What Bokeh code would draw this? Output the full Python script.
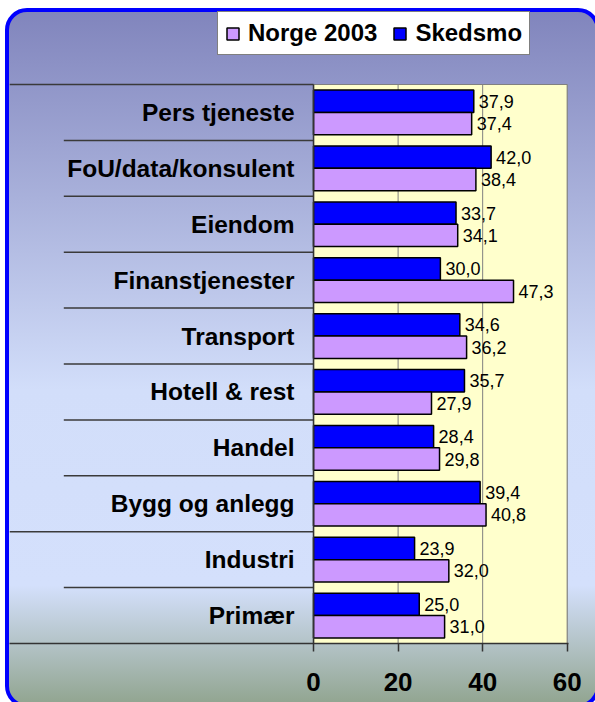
from urllib.parse import quote

from bokeh.plotting import figure
from bokeh.models import (ColumnDataSource, Range1d, FixedTicker,
                          Legend, LegendItem)
from bokeh.core.properties import value
from bokeh.embed import file_html
from bokeh.resources import INLINE

# ---------------- data ----------------
categories = ["Pers tjeneste", "FoU/data/konsulent", "Eiendom", "Finanstjenester",
              "Transport", "Hotell & rest", "Handel", "Bygg og anlegg",
              "Industri", "Primær"]
skedsmo = [37.9, 42.0, 33.7, 30.0, 34.6, 35.7, 28.4, 39.4, 23.9, 25.0]
norge = [37.4, 38.4, 34.1, 47.3, 36.2, 27.9, 29.8, 40.8, 32.0, 31.0]
series_labels = ["Norge 2003", "Skedsmo"]
x_ticks = [0, 20, 40, 60]
long_separator_below = "Bygg og anlegg"

FONT = value("Liberation Sans")


def fmt(v):
    return f"{v:.1f}".replace(".", ",")


n = len(categories)
# category slots: first category at the top, one unit per category
ypos = [n - i - 0.5 for i in range(n)]
BAR_H = 0.4

src = ColumnDataSource(dict(
    cat=categories,
    y=ypos,
    y_sk=[y + BAR_H / 2 for y in ypos],
    y_no=[y - BAR_H / 2 for y in ypos],
    sk=skedsmo,
    no=norge,
    sk_lbl=[fmt(v) for v in skedsmo],
    no_lbl=[fmt(v) for v in norge],
))

W, H = 595, 702
X_LEFT, X_RIGHT = -71.9, 60.3
Y_TOP = 11.503  # room above the categories for the legend
p = figure(width=W, height=H,
           x_range=Range1d(X_LEFT, X_RIGHT),
           y_range=Range1d(0, Y_TOP),
           output_backend="svg", toolbar_location=None,
           y_axis_location=None,
           min_border_left=9, min_border_right=27,
           min_border_top=0, min_border_bottom=59)
p.border_fill_color = None
p.background_fill_color = None
p.outline_line_color = None
p.xgrid.visible = False
p.ygrid.visible = False

# decorative rounded frame with vertical gradient (page background)
frame_svg = (
    "<svg xmlns='http://www.w3.org/2000/svg' width='595' height='702'>"
    "<defs><linearGradient id='g' gradientUnits='userSpaceOnUse' x1='0' y1='8' x2='0' y2='706'>"
    "<stop offset='0' stop-color='#8084bc'/>"
    "<stop offset='0.547' stop-color='#d2defa'/>"
    "<stop offset='0.827' stop-color='#d4e0fc'/>"
    "<stop offset='1' stop-color='#90a48e'/>"
    "</linearGradient></defs>"
    "<rect x='7' y='10' width='591' height='696' rx='20' ry='20' fill='url(#g)' "
    "stroke='#0000ff' stroke-width='4'/></svg>"
)
p.styles = {
    "background-image": f'url("data:image/svg+xml,{quote(frame_svg)}")',
    "background-repeat": "no-repeat",
    "background-size": "595px 702px",
}

# plot area (light yellow)
p.quad(left=x_ticks[0], right=x_ticks[-1], bottom=0, top=n,
       fill_color="#ffffcc", line_color="#808080", line_width=1.2)

# vertical grid lines at the value ticks
p.segment(x0=x_ticks[1:-1], y0=0, x1=x_ticks[1:-1], y1=n,
          line_color="#808080", line_width=1)

# separators in the category area
bounds, starts = [], []
idx_long = n - categories.index(long_separator_below) - 1
for k in range(1, n + 1):
    bounds.append(k)
    starts.append(X_LEFT if (k == n or k == idx_long) else -59.06)
p.segment(x0=starts, y0=bounds, x1=0, y1=bounds,
          line_color="#3a3a3a", line_width=1.5)

# bars
r_sk = p.hbar(y="y_sk", left=0, right="sk", height=BAR_H, source=src,
              fill_color="#0000ff", line_color="black", line_width=1.5)
r_no = p.hbar(y="y_no", left=0, right="no", height=BAR_H, source=src,
              fill_color="#cc99ff", line_color="black", line_width=1.5)

# category (value) axis line at 0
p.segment(x0=x_ticks[0], y0=0, x1=x_ticks[0], y1=n,
          line_color="#333333", line_width=1.5)

# value labels
for col, ycol, lbl in (("sk", "y_sk", "sk_lbl"), ("no", "y_no", "no_lbl")):
    p.text(x=col, y=ycol, text=lbl, source=src,
           x_offset=5, text_align="left", text_baseline="middle",
           text_font=FONT, text_font_size="18px", text_color="black")

# category labels
p.text(x=0, y="y", text="cat", source=src, x_offset=-19,
       text_align="right", text_baseline="middle",
       text_font=FONT, text_font_style="bold", text_font_size="24.5px",
       text_color="black")

# x axis
ax = p.xaxis[0]
ax.ticker = FixedTicker(ticks=x_ticks)
ax.axis_line_color = "#333333"
ax.axis_line_width = 1.5
ax.major_tick_line_color = "#333333"
ax.major_tick_line_width = 1.5
ax.major_tick_out = 8
ax.major_tick_in = 0
ax.minor_tick_line_color = None
ax.major_label_standoff = 21
ax.major_label_text_font = "Liberation Sans"
ax.major_label_text_font_style = "bold"
ax.major_label_text_font_size = "26px"
ax.major_label_text_color = "black"

# legend
legend = Legend(
    items=[LegendItem(label=series_labels[0], renderers=[r_no]),
           LegendItem(label=series_labels[1], renderers=[r_sk])],
    orientation="horizontal", location=(208, 588), margin=0,
    padding=7, spacing=15, label_standoff=8,
    glyph_width=15, glyph_height=15,
    label_text_font="Liberation Sans", label_text_font_style="bold",
    label_text_font_size="24px", label_text_color="black",
    border_line_color="black", border_line_width=1,
    background_fill_color="white", background_fill_alpha=1,
)
p.add_layout(legend)

open("out.html", "w", encoding="utf-8").write(file_html(p, INLINE))
